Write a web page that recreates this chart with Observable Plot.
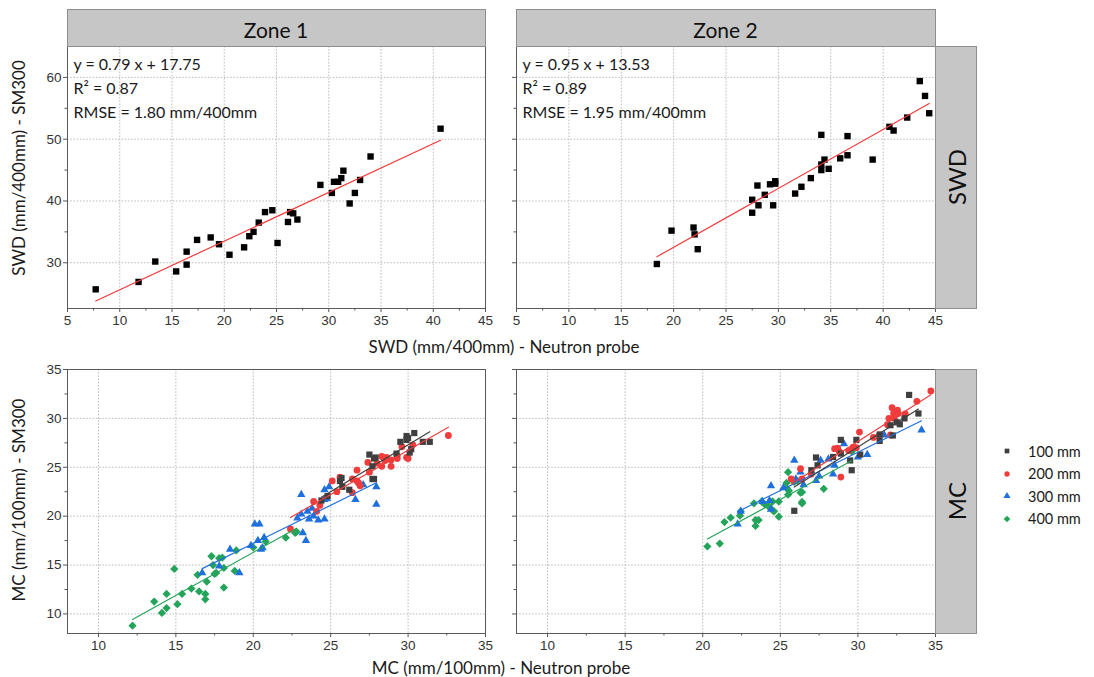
<!DOCTYPE html>
<html><head><meta charset="utf-8">
<script src="https://cdn.jsdelivr.net/npm/d3@7"></script>
<script src="https://cdn.jsdelivr.net/npm/@observablehq/plot@0.6"></script>
<style>
body{margin:0;background:#fff;}
#root{position:relative;width:1094px;height:677px;overflow:hidden;font-family:Lato,"Open Sans",sans-serif;color:#1a1a1a;}
.strip{position:absolute;background:#c6c6c6;border:1px solid #8e8e8e;box-sizing:border-box;}
.lab{position:absolute;white-space:nowrap;transform:translate(-50%,-50%);}
.rot{transform:translate(-50%,-50%) rotate(-90deg);}
.panel{position:absolute;}
.leg{position:absolute;display:flex;align-items:center;font-size:14.5px;}
</style></head>
<body><div id="root"></div>
<script>
// ---------- data ----------
const zones = ["Zone 1", "Zone 2"];
const rowNames = ["SWD", "MC"];
const depths = ["100 mm", "200 mm", "300 mm", "400 mm"];
const depthColors = ["#3f3f3f", "#f03c3c", "#1f6fdc", "#24a45a"];
const depthSymbols = ["square", "circle", "triangle", "square"];
const depthRotate = [0, 0, 0, 45];

const eqText = ["y = 0.79 x + 17.75", "y = 0.95 x + 13.53"];
const r2Text = ["R\u00b2 = 0.87", "R\u00b2 = 0.89"];
const rmseText = ["RMSE = 1.80 mm/400mm", "RMSE = 1.95 mm/400mm"];

const swdTicks = [5, 10, 15, 20, 25, 30, 35, 40, 45];
const swdYTicks = [30, 40, 50, 60];
const mcTicks = [10, 15, 20, 25, 30, 35];

// SWD, neutron probe (x) vs SM300 (y)
const swdZone1Probe = [7.7,11.8,13.4,15.4,16.4,16.4,17.4,18.7,19.5,20.5,21.9,22.4,22.8,23.3,23.9,24.6,25.1,26.1,26.3,26.6,27.0,29.2,30.3,30.5,30.9,31.2,31.4,32.0,32.5,33.0,34.0,40.7];
const swdZone1SM = [25.7,26.9,30.2,28.6,31.8,29.7,33.7,34.1,33.0,31.3,32.5,34.3,35.0,36.5,38.2,38.5,33.2,36.6,38.2,38.0,37.0,42.6,41.3,43.1,43.1,43.7,44.9,39.6,41.3,43.4,47.2,51.7];
const swdZone2Probe = [18.4,19.8,21.9,22.0,22.3,27.5,27.5,28.0,28.1,28.7,29.2,29.5,29.7,29.7,31.6,32.2,33.1,34.1,34.1,34.1,34.4,34.8,35.9,36.6,36.6,39.0,40.6,41.0,42.3,43.5,44.0,44.4];
const swdZone2SM = [29.8,35.2,35.7,34.6,32.2,40.2,38.1,42.5,39.3,41.0,42.7,39.3,42.8,43.2,41.2,42.3,43.7,50.7,45.9,45.0,46.7,45.2,46.9,50.5,47.4,46.7,52.0,51.4,53.5,59.4,57.0,54.2];

// MC, [neutron probe, SM300]
const mcZone1_100 = [[24.4,21.6],[24.8,22.05],[25.6,23.6],[25.7,23.9],[25.75,23.0],[26.2,22.7],[27.5,26.3],[27.7,23.8],[27.8,23.8],[27.7,25.1],[27.8,25.9],[27.9,26.0],[29.25,26.4],[29.5,27.6],[29.9,28.2],[29.9,27.8],[30.0,28.0],[30.1,26.5],[30.2,26.85],[30.4,28.5],[30.95,27.6],[31.4,27.6]];
const mcZone1_200 = [[22.4,18.7],[24.1,20.5],[23.9,21.5],[24.3,21.1],[25.1,23.6],[25.4,22.5],[25.6,24.0],[26.4,22.4],[26.4,23.8],[26.7,24.7],[26.7,23.6],[26.8,23.4],[26.9,23.1],[27.4,25.5],[27.5,24.5],[28.0,25.4],[28.3,26.1],[28.3,25.1],[28.5,25.7],[28.6,26.0],[28.9,25.75],[28.9,25.1],[29.3,26.2],[29.3,25.9],[29.6,27.1],[29.9,26.0],[30.0,25.9],[30.3,27.3],[32.6,28.25]];
const mcZone1_300 = [[16.7,14.2],[17.8,14.9],[18.5,16.6],[19.1,14.2],[19.85,17.0],[20.1,19.2],[20.4,19.2],[20.3,17.5],[20.5,16.6],[20.6,16.75],[20.7,17.8],[22.85,19.8],[23.1,22.2],[23.1,20.2],[23.2,18.3],[23.4,17.5],[23.5,20.5],[23.6,19.7],[23.8,20.8],[23.9,20.0],[24.2,19.6],[24.6,19.7],[24.6,21.7],[24.6,22.7],[24.75,21.8],[24.9,23.0],[26.6,21.7],[27.1,23.2],[27.95,23.0],[27.95,21.2]];
const mcZone1_400 = [[12.2,8.8],[13.6,11.27],[14.1,10.1],[14.4,12.05],[14.4,10.6],[14.9,14.6],[15.1,11.0],[15.4,12.05],[16.0,12.6],[16.4,14.0],[16.5,12.3],[16.9,12.05],[16.9,11.5],[17.0,13.3],[17.3,15.9],[17.4,15.0],[17.5,14.1],[17.6,14.2],[17.8,15.7],[18.0,15.75],[18.1,12.7],[18.1,14.7],[18.8,14.4],[18.9,16.5],[20.0,16.8],[20.8,17.4],[22.1,17.8],[22.7,18.3],[22.8,18.4]];
const mcZone2_100 = [[25.9,20.55],[27.0,24.7],[27.3,26.0],[27.4,25.2],[28.4,26.05],[28.9,27.8],[28.9,26.4],[29.5,25.7],[29.6,24.7],[29.9,27.8],[30.15,26.3],[31.4,27.7],[31.4,28.35],[32.1,29.3],[32.25,28.25],[32.5,29.6],[32.7,29.4],[33.0,30.0],[33.3,32.4],[33.9,30.5]];
const mcZone2_200 = [[25.7,23.8],[26.3,24.85],[26.4,23.8],[27.0,24.3],[28.5,26.9],[28.7,26.95],[28.8,26.6],[28.9,24.0],[29.4,26.7],[29.7,27.05],[29.9,27.0],[30.1,28.6],[31.0,28.05],[31.4,28.3],[31.9,29.35],[32.0,30.0],[32.2,31.1],[32.3,30.5],[32.35,30.0],[32.55,30.85],[32.6,30.5],[32.1,28.3],[33.05,30.45],[33.8,31.75],[34.7,32.8]];
const mcZone2_300 = [[22.25,19.2],[22.45,20.5],[23.85,21.5],[24.3,21.6],[24.4,23.1],[24.4,20.7],[25.2,22.9],[25.9,25.7],[26.0,23.8],[26.3,24.5],[26.5,23.2],[27.3,23.65],[27.5,24.1],[27.6,25.7],[28.1,25.85],[28.4,24.3],[28.5,25.2],[29.1,27.4],[30.0,26.05],[30.6,26.3],[31.7,28.3],[34.1,28.8]];
const mcZone2_400 = [[20.3,16.9],[21.1,17.2],[21.4,19.4],[21.8,19.85],[22.4,20.05],[22.45,20.5],[23.3,21.3],[23.4,19.0],[23.4,19.6],[23.6,19.6],[23.8,21.5],[24.0,21.2],[24.2,21.1],[24.3,20.9],[24.5,21.5],[24.5,20.6],[24.6,20.5],[24.9,19.95],[24.9,21.5],[25.4,23.4],[25.4,22.9],[25.5,22.2],[25.5,24.5],[25.55,22.6],[25.9,23.5],[26.1,23.6],[26.3,22.4],[26.4,21.3],[26.4,22.45],[26.4,21.45],[27.8,22.8],[29.6,26.6]];

// ---------- helpers ----------
const root = document.getElementById("root");
function div(cls, style, text) {
  const d = document.createElement("div");
  d.className = cls;
  Object.assign(d.style, style);
  if (text !== undefined) d.textContent = text;
  root.appendChild(d);
  return d;
}
const minorOf = (ticks) => ticks.slice(0, -1).map((t, i) => (t + ticks[i + 1]) / 2);
const gridStyle = {stroke: "#bdbdbd", strokeOpacity: 1, strokeDasharray: "1.6,1.6"};

function frameMarks(xTicks, xGrid, yTicks, yGrid, yLabels) {
  return [
    Plot.gridX(xGrid, gridStyle),
    Plot.gridY(yGrid, gridStyle),
    Plot.axisX(xTicks, {tickSize: 4, tickPadding: 3, label: null, stroke: "#555"}),
    Plot.axisX(minorOf(xTicks), {tickSize: 2.5, text: null, label: null, stroke: "#555"}),
    Plot.axisY(yTicks, {tickSize: 4, tickPadding: 2, label: null, stroke: "#555", text: yLabels ? undefined : null}),
    Plot.axisY(minorOf(yTicks), {tickSize: 2.5, text: null, label: null, stroke: "#555"}),
  ];
}

function place(svg, left, top) {
  const w = div("panel", {left: left + "px", top: top + "px"});
  w.appendChild(svg);
}

const svgStyle = {fontFamily: "'Liberation Sans', Arial, sans-serif", fontSize: "13.5px", color: "#333", background: "transparent", overflow: "visible"};

// ---------- geometry ----------
const colX = [[67, 485], [516, 935]];
const rowY = [[46, 308], [369, 633]];

// ---------- SWD row ----------
const swdSets = [
  swdZone1Probe.map((x, i) => [x, swdZone1SM[i]]),
  swdZone2Probe.map((x, i) => [x, swdZone2SM[i]])
];
swdSets.forEach((data, z) => {
  const [x0, x1] = colX[z], [y0, y1] = rowY[0];
  const mL = z === 0 ? 35 : 8, mR = 14, mT = 4, mB = 26;
  const svg = Plot.plot({
    width: mL + (x1 - x0) + mR, height: mT + (y1 - y0) + mB,
    marginLeft: mL, marginRight: mR, marginTop: mT, marginBottom: mB,
    x: {domain: [5, 45]}, y: {domain: [22.6, 65]},
    style: svgStyle,
    marks: [
      ...frameMarks(swdTicks, swdTicks.slice(1, -1), swdYTicks, swdYTicks, z === 0),
      Plot.frame({stroke: "#5a5a5a"}),
      Plot.dot(data, {x: d => d[0], y: d => d[1], symbol: "square", fill: "#000", r: 3.6}),
      Plot.linearRegressionY(data, {x: d => d[0], y: d => d[1], stroke: "#f43a3a", strokeWidth: 1.2, ci: 0}),
      Plot.text([[eqText[z], r2Text[z], rmseText[z]].join("\n")], {
        text: d => d, frameAnchor: "top-left", textAnchor: "start", lineAnchor: "top",
        dx: 6, dy: 7, fontSize: 16, lineHeight: 1.48, fontFamily: "Lato, 'Open Sans', sans-serif", fill: "#1a1a1a"
      })
    ]
  });
  place(svg, x0 - mL, y0 - mT);
});

// ---------- MC row ----------
const mcSets = [
  [mcZone1_100, mcZone1_200, mcZone1_300, mcZone1_400],
  [mcZone2_100, mcZone2_200, mcZone2_300, mcZone2_400]
];
const dotR = [3.5, 3.4, 3.1, 3.3];
mcSets.forEach((sets, z) => {
  const [x0, x1] = colX[z], [y0, y1] = rowY[1];
  const mL = z === 0 ? 35 : 8, mR = 14, mT = 4, mB = 26;
  const marks = [
    ...frameMarks(mcTicks, mcTicks.slice(0, -1), mcTicks, mcTicks.slice(0, -1), z === 0),
    Plot.frame({stroke: "#5a5a5a"})
  ];
  // draw in reverse depth order so 100 mm sits on top
  [3, 2, 1, 0].forEach(k => {
    marks.push(Plot.dot(sets[k], {x: d => d[0], y: d => d[1], symbol: depthSymbols[k], rotate: depthRotate[k], fill: depthColors[k], r: dotR[k]}));
  });
  [3, 2, 1, 0].forEach(k => {
    marks.push(Plot.linearRegressionY(sets[k], {x: d => d[0], y: d => d[1], stroke: depthColors[k], strokeWidth: 1.2, ci: 0}));
  });
  const svg = Plot.plot({
    width: mL + (x1 - x0) + mR, height: mT + (y1 - y0) + mB,
    marginLeft: mL, marginRight: mR, marginTop: mT, marginBottom: mB,
    x: {domain: [8, 35]}, y: {domain: [8, 35]},
    style: svgStyle,
    marks
  });
  place(svg, x0 - mL, y0 - mT);
});

// ---------- strips ----------
zones.forEach((z, i) => {
  const [x0, x1] = colX[i];
  div("strip", {left: x0 + "px", top: "9px", width: (x1 - x0 + 1) + "px", height: "38px"});
  div("lab", {left: ((x0 + x1) / 2) + "px", top: "29px", fontSize: "21px", color: "#111"}, z);
});
rowNames.forEach((r, i) => {
  const [y0, y1] = rowY[i];
  div("strip", {left: "935px", top: y0 + "px", width: "42px", height: (y1 - y0 + 1) + "px"});
  div("lab rot", {left: "956px", top: ((y0 + y1) / 2) + "px", fontSize: "24px", color: "#111"}, r);
});

// ---------- axis titles ----------
div("lab rot", {left: "18px", top: "168px", fontSize: "17px"}, "SWD (mm/400mm) - SM300");
div("lab rot", {left: "18px", top: "500px", fontSize: "17px"}, "MC (mm/100mm) - SM300");
div("lab", {left: "504px", top: "346px", fontSize: "17px"}, "SWD (mm/400mm) - Neutron probe");
div("lab", {left: "501px", top: "667px", fontSize: "17px"}, "MC (mm/100mm) - Neutron probe");

// ---------- legend ----------
depths.forEach((d, k) => {
  const top = 451 + k * 22.5;
  const row = div("leg", {left: "1000px", top: (top - 10) + "px", height: "20px"});
  const ns = "http://www.w3.org/2000/svg";
  const s = document.createElementNS(ns, "svg");
  s.setAttribute("width", "14"); s.setAttribute("height", "14");
  s.style.marginRight = "14px";
  const p = document.createElementNS(ns, "path");
  const sym = {square: d3.symbolSquare, circle: d3.symbolCircle, triangle: d3.symbolTriangle}[depthSymbols[k]];
  p.setAttribute("d", d3.symbol(sym, 22)());
  p.setAttribute("transform", "translate(7,7) rotate(" + depthRotate[k] + ")");
  p.setAttribute("fill", depthColors[k]);
  s.appendChild(p);
  row.appendChild(s);
  const t = document.createElement("span");
  t.textContent = d;
  row.appendChild(t);
});
</script>
</body></html>
